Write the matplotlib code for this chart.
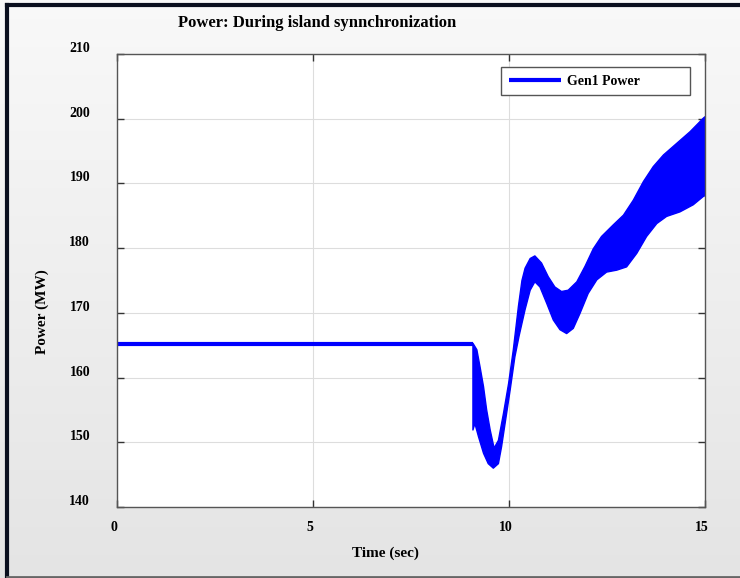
import numpy as np
import matplotlib
matplotlib.use('Agg')
import matplotlib.pyplot as plt
from matplotlib.lines import Line2D
from matplotlib.transforms import ScaledTranslation

# steady part before the event
t_flat = [0.0, 9.08]
p_flat = [165.2, 165.2]

# upper envelope of the oscillating power band
t_up = [9.08, 9.18, 9.26, 9.35, 9.43, 9.52, 9.62, 9.73, 9.86, 9.99, 10.11, 10.24, 10.33,
        10.41, 10.54, 10.66, 10.83, 11.00, 11.17, 11.34, 11.51, 11.73, 11.94, 12.15,
        12.36, 12.66, 12.92, 13.17, 13.43, 13.68, 13.94, 14.28, 14.62, 14.96, 15.0]
p_up = [165.3, 164.3, 161.7, 158.6, 155.0, 151.9, 149.1, 150.3, 154.5, 159.1, 164.3, 171.0, 175.0,
        176.9, 178.4, 178.8, 177.7, 175.6, 174.0, 173.3, 173.5, 174.8, 177.2, 179.9,
        181.8, 183.6, 185.1, 187.4, 190.3, 192.6, 194.4, 196.2, 198.0, 200.1, 200.3]

# lower envelope
t_lo = [9.08, 9.13, 9.22, 9.35, 9.47, 9.60, 9.73, 9.81, 9.90, 10.03, 10.15, 10.26, 10.41,
        10.54, 10.66, 10.79, 10.96, 11.13, 11.30, 11.47, 11.64, 11.81, 12.02, 12.24,
        12.49, 12.75, 13.00, 13.26, 13.51, 13.77, 14.02, 14.36, 14.70, 14.96, 15.0]
p_lo = [151.9, 152.9, 150.9, 148.3, 146.7, 146.0, 146.7, 149.3, 152.9, 158.1, 163.2, 166.5, 170.5,
        173.5, 174.8, 174.0, 171.5, 168.9, 167.4, 166.8, 167.6, 169.9, 173.0, 175.1,
        176.3, 176.6, 177.1, 179.2, 181.8, 183.8, 184.9, 185.6, 186.7, 188.0, 188.1]

xticks = [0, 5, 10, 15]
yticks = [140, 150, 160, 170, 180, 190, 200, 210]

W, H = 740, 578
fig = plt.figure(figsize=(W / 100, H / 100), dpi=100)

# light gray gradient background
bg = fig.add_axes([0, 0, 1, 1], zorder=-10)
grad = np.linspace(0.975, 0.895, 256).reshape(-1, 1)
bg.imshow(np.dstack([grad, grad, grad]), aspect='auto', extent=[0, 1, 0, 1])
bg.set_axis_off()

# frame lines: dark on top and left, gray at the bottom
fig.lines.append(Line2D([6.5 / W, 1], [1 - 5 / H, 1 - 5 / H], transform=fig.transFigure,
                        color='#0a0f1e', lw=3))
fig.lines.append(Line2D([6.5 / W, 6.5 / W], [1 - 5 / H, 1.5 / H], transform=fig.transFigure,
                        color='#0a0f1e', lw=3))
fig.lines.append(Line2D([6.5 / W, 1], [1.2 / H, 1.2 / H], transform=fig.transFigure,
                        color='#666666', lw=2))

ax = fig.add_axes([117 / W, 1 - 507 / H, 588 / W, 453 / H])
ax.set_facecolor('white')

ax.plot(t_flat, p_flat, color='#0000ff', lw=3, solid_capstyle='butt', label='Gen1 Power')
ax.fill(np.concatenate([t_up, t_lo[::-1]]), np.concatenate([p_up, p_lo[::-1]]),
        color='#0000ff', lw=1, edgecolor='#0000ff', joinstyle='round')

ax.set_xlim(0, 15)
ax.set_ylim(140, 210)
ax.set_xticks(xticks)
ax.set_yticks(yticks)
ax.grid(True, color='#dddddd', lw=0.8)
ax.set_axisbelow(True)
ax.tick_params(direction='in', top=True, right=True, length=5, width=1, color='#333333',
               labelsize=10, pad=10)
for sp in ax.spines.values():
    sp.set_color('#555555')
    sp.set_linewidth(1)

for lab in ax.get_xticklabels() + ax.get_yticklabels():
    lab.set_fontfamily('Liberation Serif')
    lab.set_fontweight('bold')
for lab in ax.get_yticklabels():
    lab.set_transform(lab.get_transform() + ScaledTranslation(-0.13, 0.07, fig.dpi_scale_trans))
for lab in ax.get_xticklabels():
    lab.set_transform(lab.get_transform() + ScaledTranslation(-0.03, 0.0, fig.dpi_scale_trans))

leg = ax.legend(loc='upper left', bbox_to_anchor=(0.653, 0.8985, 0.3215, 0.0728), mode='expand',
                borderaxespad=0, fancybox=False, framealpha=1, edgecolor='#555555',
                handlelength=3.8, handletextpad=0.4, borderpad=0.55,
                prop={'family': 'Liberation Serif', 'weight': 'bold', 'size': 10})
leg.get_frame().set_linewidth(1)

fig.text(317 / W, 1 - 23 / H, 'Power: During island synnchronization', ha='center', va='center',
         family='Liberation Serif', weight='bold', fontsize=12)
fig.text(385 / W, 1 - 553 / H, 'Time (sec)', ha='center', va='center',
         family='Liberation Serif', weight='bold', fontsize=11)
fig.text(42 / W, 1 - 312 / H, 'Power (MW)', ha='center', va='center', rotation=90,
         family='Liberation Serif', weight='bold', fontsize=11)

plt.savefig('out.png', dpi=100)
